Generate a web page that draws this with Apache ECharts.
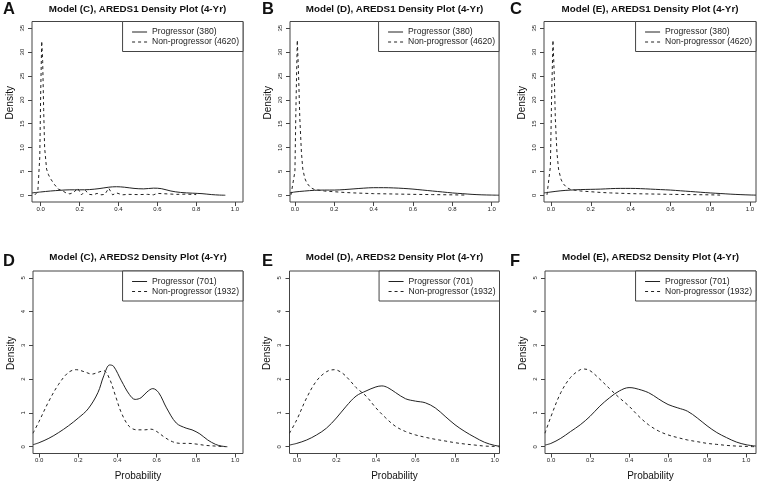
<!DOCTYPE html>
<html><head><meta charset="utf-8">
<script src="https://cdn.jsdelivr.net/npm/echarts@6/dist/echarts.min.js"></script>
<style>html,body{margin:0;padding:0;background:#fff}#c{width:760px;height:487px}</style>
</head><body><div id="c"></div>
<script>
// ---- labels ----
const panelLetters = ['A', 'B', 'C', 'D', 'E', 'F'];
const panelTitles = [
  'Model (C), AREDS1 Density Plot (4-Yr)',
  'Model (D), AREDS1 Density Plot (4-Yr)',
  'Model (E), AREDS1 Density Plot (4-Yr)',
  'Model (C), AREDS2 Density Plot (4-Yr)',
  'Model (D), AREDS2 Density Plot (4-Yr)',
  'Model (E), AREDS2 Density Plot (4-Yr)'
];
const seriesNamesTop = ['Progressor (380)', 'Non-progressor (4620)'];
const seriesNamesBottom = ['Progressor (701)', 'Non-progressor (1932)'];
const xTicks = [0, 0.2, 0.4, 0.6, 0.8, 1.0];
const yTicksTop = [0, 5, 10, 15, 20, 25, 30, 35];
const yTicksBottom = [0, 1, 2, 3, 4, 5];
const xAxisLabel = 'Probability';
const yAxisLabel = 'Density';

// ---- density values [probability, density] ----
const A_prog = [[-0.045,0.5],[0,0.7],[0.05,0.9],[0.1,1.05],[0.15,1.15],[0.2,1.15],[0.25,1.2],[0.3,1.4],[0.35,1.7],[0.39,1.8],[0.43,1.7],[0.48,1.45],[0.53,1.35],[0.58,1.5],[0.62,1.4],[0.67,0.9],[0.72,0.6],[0.78,0.45],[0.83,0.35],[0.88,0.15],[0.92,0.05],[0.95,0.02]];
const A_non = [[-0.03,0.1],[-0.015,0.8],[-0.005,8],[0,22],[0.005,32.3],[0.01,28],[0.015,18],[0.02,10],[0.03,5.5],[0.04,4.3],[0.05,3.5],[0.07,2.3],[0.09,1.3],[0.11,1.0],[0.13,0.5],[0.15,0.3],[0.17,0.6],[0.19,1.5],[0.21,0.1],[0.23,1.0],[0.25,0.2],[0.27,0.1],[0.29,0.4],[0.31,0.1],[0.33,0.2],[0.35,1.5],[0.37,0.1],[0.39,0.5],[0.42,0.1],[0.45,0.2],[0.5,0.15],[0.55,0.2],[0.58,0.1],[0.6,0.4],[0.65,0.3],[0.7,0.2],[0.75,0.25],[0.8,0.15]];
const B_prog = [[-0.025,0.5],[0,0.7],[0.05,0.9],[0.1,1.05],[0.15,1.1],[0.2,1.1],[0.25,1.2],[0.3,1.35],[0.35,1.5],[0.4,1.6],[0.45,1.6],[0.5,1.55],[0.55,1.45],[0.6,1.3],[0.65,1.1],[0.7,0.9],[0.75,0.7],[0.8,0.5],[0.85,0.35],[0.9,0.2],[0.95,0.1],[1.0,0.05],[1.037,0.02]];
const B_non = [[-0.02,0.1],[-0.01,0.5],[0,5],[0.005,18],[0.012,32.5],[0.018,26],[0.025,16],[0.033,9],[0.04,5.5],[0.05,3.6],[0.06,2.6],[0.08,1.6],[0.1,1.2],[0.15,0.9],[0.2,0.75],[0.25,0.6],[0.3,0.5],[0.4,0.35],[0.5,0.28],[0.6,0.2],[0.7,0.15],[0.8,0.1],[0.87,0.05]];
const C_prog = [[-0.035,0.5],[0,0.7],[0.05,0.95],[0.1,1.1],[0.15,1.2],[0.2,1.25],[0.25,1.3],[0.3,1.4],[0.35,1.45],[0.4,1.45],[0.45,1.4],[0.5,1.3],[0.55,1.2],[0.6,1.1],[0.65,0.95],[0.7,0.8],[0.75,0.65],[0.8,0.5],[0.85,0.38],[0.9,0.25],[0.95,0.15],[1.0,0.07],[1.03,0.04]];
const C_non = [[-0.02,0.1],[-0.01,0.5],[-0.003,6],[0.003,20],[0.01,32.5],[0.016,26],[0.022,16],[0.03,9],[0.038,5.5],[0.05,3.4],[0.06,2.5],[0.08,1.6],[0.1,1.2],[0.15,0.9],[0.2,0.75],[0.25,0.6],[0.3,0.5],[0.4,0.35],[0.5,0.28],[0.6,0.2],[0.7,0.15],[0.8,0.1],[0.85,0.05]];
const D_prog = [[-0.031,0.06],[0,0.12],[0.05,0.25],[0.1,0.42],[0.15,0.62],[0.2,0.85],[0.25,1.12],[0.3,1.6],[0.33,2.1],[0.36,2.42],[0.38,2.38],[0.42,1.95],[0.46,1.55],[0.49,1.4],[0.52,1.45],[0.55,1.62],[0.58,1.72],[0.61,1.6],[0.65,1.15],[0.7,0.7],[0.75,0.55],[0.78,0.5],[0.82,0.38],[0.86,0.2],[0.9,0.07],[0.93,0.02],[0.96,0.0]];
const D_non = [[-0.031,0.4],[0,0.75],[0.05,1.35],[0.1,1.85],[0.15,2.2],[0.19,2.28],[0.23,2.22],[0.27,2.15],[0.3,2.2],[0.33,2.25],[0.36,2.0],[0.39,1.5],[0.42,1.0],[0.46,0.6],[0.5,0.5],[0.54,0.5],[0.57,0.52],[0.6,0.45],[0.64,0.28],[0.68,0.15],[0.72,0.1],[0.76,0.1],[0.8,0.08],[0.85,0.04],[0.9,0.02],[0.95,0.0]];
const E_prog = [[-0.037,0.05],[0,0.1],[0.05,0.2],[0.1,0.35],[0.15,0.55],[0.2,0.85],[0.25,1.2],[0.3,1.5],[0.35,1.65],[0.4,1.77],[0.43,1.8],[0.46,1.75],[0.5,1.6],[0.55,1.42],[0.6,1.35],[0.65,1.3],[0.7,1.15],[0.75,0.9],[0.8,0.65],[0.85,0.45],[0.9,0.28],[0.95,0.13],[1.0,0.04],[1.025,0.02]];
const E_non = [[-0.037,0.4],[0,0.8],[0.05,1.45],[0.1,1.95],[0.15,2.22],[0.19,2.28],[0.23,2.18],[0.27,1.95],[0.3,1.75],[0.35,1.5],[0.4,1.15],[0.45,0.85],[0.5,0.6],[0.55,0.45],[0.6,0.35],[0.65,0.28],[0.7,0.22],[0.75,0.17],[0.8,0.12],[0.85,0.08],[0.9,0.05],[0.95,0.02],[1.0,0.01],[1.025,0.0]];
const F_prog = [[-0.031,0.05],[0,0.1],[0.05,0.25],[0.1,0.45],[0.15,0.65],[0.2,0.9],[0.25,1.2],[0.3,1.45],[0.35,1.65],[0.4,1.75],[0.43,1.73],[0.5,1.6],[0.55,1.42],[0.6,1.25],[0.65,1.15],[0.7,1.05],[0.75,0.85],[0.8,0.62],[0.85,0.42],[0.9,0.27],[0.95,0.14],[1.0,0.06],[1.05,0.02]];
const F_non = [[-0.031,0.4],[0,0.9],[0.05,1.6],[0.1,2.05],[0.15,2.28],[0.17,2.3],[0.2,2.25],[0.25,2.0],[0.3,1.72],[0.35,1.45],[0.4,1.2],[0.45,0.9],[0.5,0.65],[0.55,0.47],[0.6,0.35],[0.65,0.27],[0.7,0.2],[0.75,0.15],[0.8,0.1],[0.85,0.07],[0.9,0.04],[0.95,0.02],[1.0,0.01],[1.05,0.0]];

const progData = [A_prog, B_prog, C_prog, D_prog, E_prog, F_prog];
const nonData = [A_non, B_non, C_non, D_non, E_non, F_non];

// ---- layout (pixels) ----
const W = 760;
const boxes = [
  {l: 32, t: 21.5, w: 211, h: 180.5, xmin: -0.045, xmax: 1.041},
  {l: 290, t: 21.5, w: 209, h: 180.5, xmin: -0.025, xmax: 1.037},
  {l: 544, t: 21.5, w: 212, h: 180.5, xmin: -0.035, xmax: 1.03},
  {l: 33, t: 271, w: 210, h: 182.5, xmin: -0.031, xmax: 1.04},
  {l: 289.5, t: 271, w: 210, h: 182.5, xmin: -0.037, xmax: 1.025},
  {l: 545, t: 271, w: 211, h: 182.5, xmin: -0.031, xmax: 1.051}
];
const letterPos = [[3, 1], [262, 1], [510, 1], [3, 253], [262, 253], [510, 253]];

const FONT = 'Liberation Sans, Arial, Helvetica, sans-serif';
const INK = '#222';
const BOX = '#444';

const option = {
  animation: false,
  backgroundColor: '#fff',
  textStyle: {fontFamily: FONT},
  title: [], grid: [], xAxis: [], yAxis: [], series: [], legend: []
};

boxes.forEach((b, i) => {
  const bottomRow = i >= 3;
  const names = bottomRow ? seriesNamesBottom : seriesNamesTop;
  const yTicks = bottomRow ? yTicksBottom : yTicksTop;
  const ymin = bottomRow ? -0.2 : -1.4;
  const ymax = bottomRow ? 5.2 : 36.4;

  option.grid.push({left: b.l, top: b.t, width: b.w, height: b.h, show: true,
    borderColor: BOX, borderWidth: 1, backgroundColor: 'transparent', containLabel: false});

  option.title.push({text: panelTitles[i], left: b.l + b.w / 2, top: bottomRow ? 251.5 : 3.5,
    textAlign: 'center', padding: 0,
    textStyle: {fontSize: 9.8, fontWeight: 'bold', color: '#111', fontFamily: FONT, lineHeight: 11}});
  option.title.push({text: panelLetters[i], left: letterPos[i][0], top: letterPos[i][1], padding: 0,
    textStyle: {fontSize: 16.5, fontWeight: 'bold', color: '#111', fontFamily: FONT, lineHeight: 16}});

  option.xAxis.push({type: 'value', gridIndex: i, min: b.xmin, max: b.xmax,
    axisLine: {show: false, onZero: false},
    axisTick: {show: true, length: 4, lineStyle: {color: BOX}, customValues: xTicks},
    axisLabel: {customValues: xTicks, formatter: v => v.toFixed(1), fontSize: 6, margin: 4, color: INK, fontFamily: FONT},
    splitLine: {show: false},
    name: bottomRow ? xAxisLabel : '', nameLocation: 'middle', nameGap: 18,
    nameTextStyle: {fontSize: 10, color: '#111', fontFamily: FONT}});

  option.yAxis.push({type: 'value', gridIndex: i, min: ymin, max: ymax,
    axisLine: {show: false, onZero: false},
    axisTick: {show: true, length: 4, lineStyle: {color: BOX}, customValues: yTicks},
    axisLabel: {customValues: yTicks, rotate: 90, fontSize: 6, margin: 7, color: INK, fontFamily: FONT},
    splitLine: {show: false},
    name: yAxisLabel, nameLocation: 'middle', nameGap: 17,
    nameTextStyle: {fontSize: 10, color: '#111', fontFamily: FONT, padding: [0, 0, 0, 18]}});

  const spiky = !bottomRow;
  option.series.push({type: 'line', name: names[0], xAxisIndex: i, yAxisIndex: i,
    data: progData[i], symbol: 'none', showSymbol: false, smooth: 0.35,
    lineStyle: {color: INK, width: 1, type: 'solid'}, itemStyle: {color: INK}});
  option.series.push({type: 'line', name: names[1], xAxisIndex: i, yAxisIndex: i,
    data: nonData[i], symbol: 'none', showSymbol: false, smooth: spiky ? false : 0.35,
    lineStyle: {color: INK, width: 1, type: [3, 3]}, itemStyle: {color: INK}});

  option.legend.push({orient: 'vertical', right: W - (b.l + b.w), top: b.t,
    data: names, selectedMode: false,
    itemWidth: 15, itemHeight: 9, itemGap: 1,
    padding: [6, 4, 5, 9], borderColor: BOX, borderWidth: 1, borderRadius: 0,
    backgroundColor: '#fff',
    itemStyle: {color: 'rgba(0,0,0,0)', borderWidth: 0, opacity: 0},
    lineStyle: {width: 1},
    textStyle: {fontSize: 8.6, color: INK, fontFamily: FONT}});
});

const chart = echarts.init(document.getElementById('c'), null, {renderer: 'canvas'});
chart.setOption(option);
</script>
</body></html>
